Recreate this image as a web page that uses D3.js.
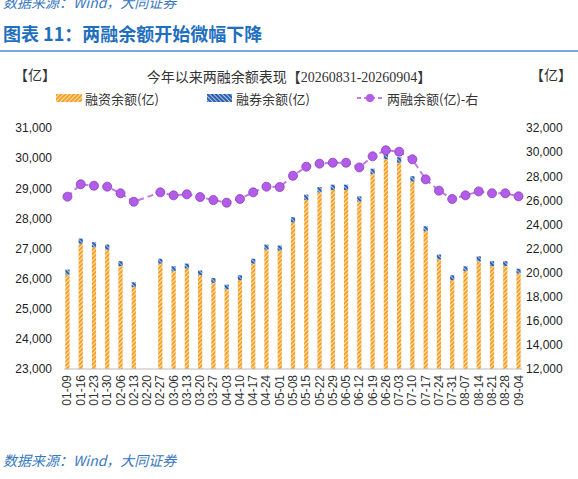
<!DOCTYPE html>
<html><head><meta charset="utf-8">
<script src="https://cdn.jsdelivr.net/npm/d3@7"></script>
<style>body{margin:0;background:#fff;font-family:"Noto Sans CJK SC",sans-serif}</style>
</head><body>
<svg id="c" width="578" height="479"></svg>
<script>
var dates = ["01-09","01-16","01-23","01-30","02-06","02-13","02-20","02-27","03-06","03-13","03-20","03-27","04-03","04-10","04-17","04-24","05-01","05-08","05-15","05-22","05-29","06-05","06-12","06-19","06-26","07-03","07-10","07-17","07-24","07-31","08-07","08-14","08-21","08-28","09-04"];
// 两融余额 (亿), null = no data
var total = [26300,27330,27210,27130,26580,25880,null,26660,26410,26500,26270,26020,25800,26110,26660,27130,27100,28040,28790,29040,29120,29120,28730,29650,30150,30030,29400,27740,26800,26110,26410,26740,26580,26580,26330];
// 融券余额 (亿)
var lending = [170,170,170,170,165,160,null,165,165,165,160,160,155,160,165,170,170,175,180,180,180,180,175,180,185,185,180,170,165,160,160,165,165,160,160];
var financing = total.map(function(t, i) { return t == null ? null : t - lending[i]; });
var leftTicks = [23000,24000,25000,26000,27000,28000,29000,30000,31000];
var rightTicks = [12000,14000,16000,18000,20000,22000,24000,26000,28000,30000,32000];

var svg = d3.select("#c");
var blue = "#1f6fbf";

svg.append("text").attr("x", 3).attr("y", 8).attr("fill", "#3a78c0").attr("font-size", 14)
    .attr("font-style", "italic").text("数据来源：Wind，大同证券");
svg.append("text").attr("x", 3).attr("y", 41).attr("fill", blue).attr("font-size", 18)
    .attr("font-weight", "bold").text("图表 11：两融余额开始微幅下降");
svg.append("line").attr("x1", 0).attr("x2", 578).attr("y1", 51).attr("y2", 51)
    .attr("stroke", "#4a8ad0").attr("stroke-width", 1.5);
svg.append("text").attr("x", 3).attr("y", 466).attr("fill", "#3a78c0").attr("font-size", 14)
    .attr("font-style", "italic").text("数据来源：Wind，大同证券");

var defs = svg.append("defs");
var p1 = defs.append("pattern").attr("id", "hf").attr("patternUnits", "userSpaceOnUse")
    .attr("width", 3).attr("height", 3).attr("patternTransform", "rotate(45)");
p1.append("rect").attr("width", 3).attr("height", 3).attr("fill", "#f7a12a");
p1.append("rect").attr("width", 1).attr("height", 3).attr("fill", "#fde2b0");
var p2 = defs.append("pattern").attr("id", "hl").attr("patternUnits", "userSpaceOnUse")
    .attr("width", 3).attr("height", 3).attr("patternTransform", "rotate(-45)");
p2.append("rect").attr("width", 3).attr("height", 3).attr("fill", "#2f5fa8");
p2.append("rect").attr("width", 1).attr("height", 3).attr("fill", "#a9c2e6");

var pl = 64, pr = 522, pt = 128, pb = 369;
var x = d3.scaleBand().domain(dates).range([pl, pr]).paddingInner(0.68).paddingOuter(0.1);
var yL = d3.scaleLinear().domain([23000, 31000]).range([pb, pt]);
var yR = d3.scaleLinear().domain([12000, 32000]).range([pb, pt]);

var tickFont = "'Liberation Sans', sans-serif";
svg.append("g").attr("transform", "translate(" + pl + ",0)")
    .call(d3.axisLeft(yL).tickValues(leftTicks).tickSize(0).tickPadding(12).tickFormat(d3.format(",")))
    .call(function(g) { g.select(".domain").remove(); })
    .selectAll("text").attr("font-size", 12).attr("font-family", tickFont).attr("fill", "#222");
svg.append("g").attr("transform", "translate(" + pr + ",0)")
    .call(d3.axisRight(yR).tickValues(rightTicks).tickSize(0).tickPadding(4).tickFormat(d3.format(",")))
    .call(function(g) { g.select(".domain").remove(); })
    .selectAll("text").attr("font-size", 12).attr("font-family", tickFont).attr("fill", "#222");

var idx = d3.range(dates.length).filter(function(i) { return total[i] != null; });
var bars = svg.append("g");
bars.selectAll(".f").data(idx).enter().append("rect")
    .attr("x", function(i) { return x(dates[i]); }).attr("width", x.bandwidth())
    .attr("y", function(i) { return yL(financing[i]); })
    .attr("height", function(i) { return pb - yL(financing[i]); })
    .attr("fill", "url(#hf)");
bars.selectAll(".l").data(idx).enter().append("rect")
    .attr("x", function(i) { return x(dates[i]); }).attr("width", x.bandwidth())
    .attr("y", function(i) { return yL(total[i]); })
    .attr("height", function(i) { return yL(financing[i]) - yL(total[i]); })
    .attr("fill", "url(#hl)");

svg.append("line").attr("x1", pl).attr("x2", pr).attr("y1", pb).attr("y2", pb)
    .attr("stroke", "#bbb");

var cx = function(i) { return x(dates[i]) + x.bandwidth() / 2; };
svg.append("path").datum(idx)
    .attr("d", d3.line().x(cx).y(function(i) { return yR(total[i]); }))
    .attr("fill", "none").attr("stroke", "#c27be6").attr("stroke-width", 2).attr("stroke-dasharray", "6,4");
svg.selectAll(".dot").data(idx).enter().append("circle")
    .attr("cx", cx).attr("cy", function(i) { return yR(total[i]); }).attr("r", 4.5)
    .attr("fill", "#b25ce8").attr("stroke", "#8a3fc4").attr("stroke-width", 0.8);

svg.append("g").selectAll("text").data(dates).enter().append("text")
    .attr("transform", function(d) { return "translate(" + (x(d) + x.bandwidth() / 2 + 4) + "," + (pb + 6) + ") rotate(-90)"; })
    .attr("text-anchor", "end").attr("font-size", 12).attr("font-family", tickFont).attr("fill", "#333")
    .text(function(d) { return d; });

var serif = "'Liberation Serif','Noto Sans CJK SC',serif";
svg.append("text").attr("x", 289).attr("y", 82).attr("text-anchor", "middle").attr("font-size", 14)
    .attr("font-family", serif).attr("fill", "#333").text("今年以来两融余额表现【20260831-20260904】");
svg.append("text").attr("x", 14).attr("y", 80).attr("font-size", 14).attr("fill", "#333").text("【亿】");
svg.append("text").attr("x", 530).attr("y", 80).attr("font-size", 14).attr("fill", "#333").text("【亿】");

var lg = svg.append("g").attr("font-size", 13).attr("fill", "#333");
lg.append("rect").attr("x", 56).attr("y", 94).attr("width", 26).attr("height", 8).attr("fill", "url(#hf)");
lg.append("text").attr("x", 85).attr("y", 104).text("融资余额(亿)");
lg.append("rect").attr("x", 207).attr("y", 94).attr("width", 25).attr("height", 8).attr("fill", "url(#hl)");
lg.append("text").attr("x", 236).attr("y", 104).text("融券余额(亿)");
lg.append("line").attr("x1", 357).attr("x2", 383).attr("y1", 98).attr("y2", 98)
    .attr("stroke", "#c27be6").attr("stroke-width", 2).attr("stroke-dasharray", "4,3");
lg.append("circle").attr("cx", 370).attr("cy", 98).attr("r", 4).attr("fill", "#b25ce8");
lg.append("text").attr("x", 387).attr("y", 104).text("两融余额(亿)-右");
</script>
</body></html>
